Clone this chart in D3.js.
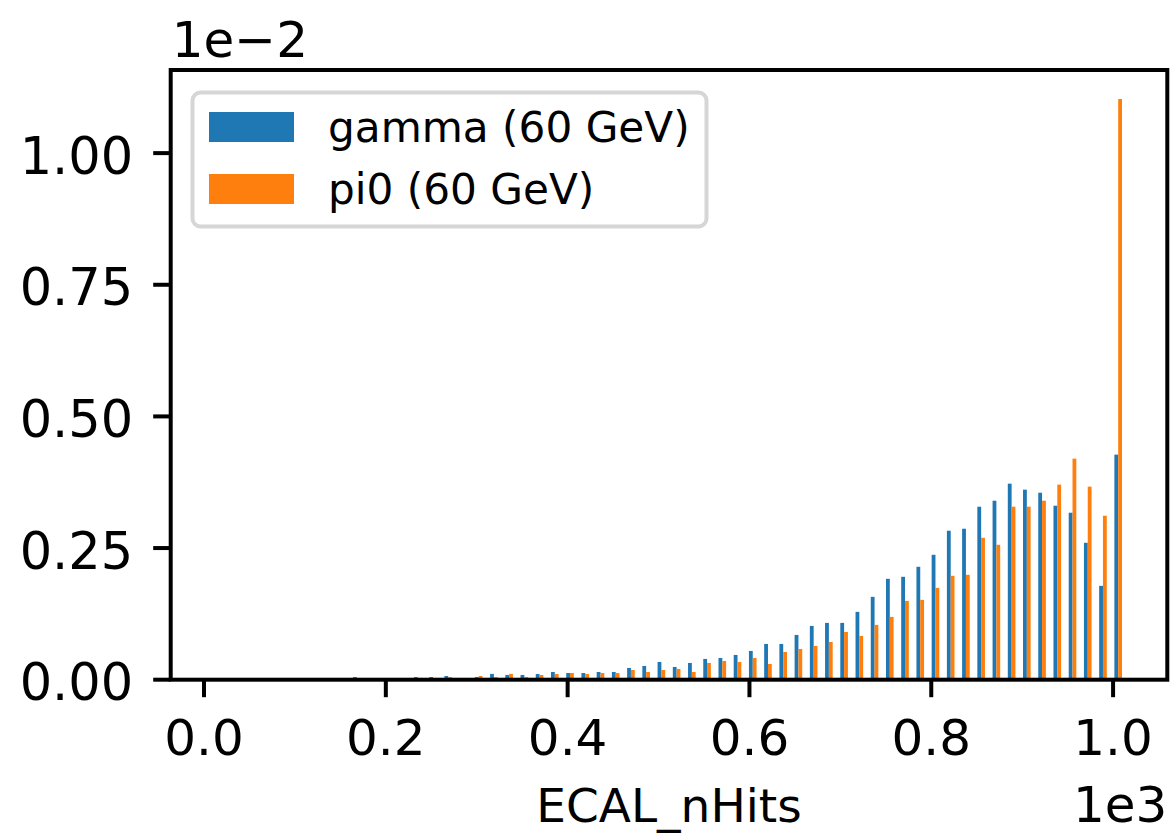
<!DOCTYPE html>
<html>
<head>
<meta charset="utf-8">
<script src="https://cdn.jsdelivr.net/npm/d3@7"></script>
<style>
  body { margin: 0; background: #fff; }
  svg { display: block; font-family: "DejaVu Sans", sans-serif; }
</style>
</head>
<body>
<div id="chart"></div>
<script>
// histogram counts (density, in units of 1e-2), 60 bins over ECAL_nHits
const nHitsMin = 9;
const nHitsMax = 1014;
const nBins = 60;

const seriesNames = ["gamma (60 GeV)", "pi0 (60 GeV)"];
const seriesColors = ["#1f77b4", "#ff7f0e"];

const gammaValues = [
  0, 0, 0, 0, 0, 0, 0, 0, 0, 0.005,
  0, 0, 0, 0.005, 0.005, 0.007, 0, 0.005, 0.011, 0.009,
  0.009, 0.0108, 0.0146, 0.0127, 0.0127, 0.0146, 0.0146, 0.0223, 0.026, 0.0337,
  0.0242, 0.0318, 0.0394, 0.0413, 0.047, 0.0546, 0.0679, 0.0679, 0.085, 0.1021,
  0.1079, 0.1079, 0.1288, 0.1573, 0.1916, 0.1954, 0.2144, 0.2372, 0.2829, 0.2867,
  0.3285, 0.3399, 0.3723, 0.3609, 0.3551, 0.3304, 0.3171, 0.26, 0.1782, 0.4274,
];

const pi0Values = [
  0, 0, 0, 0, 0, 0, 0, 0, 0, 0,
  0, 0, 0, 0, 0, 0.005, 0, 0.007, 0.005, 0.011,
  0.005, 0.0089, 0.0108, 0.0127, 0.0108, 0.0127, 0.0127, 0.0185, 0.0146, 0.0185,
  0.0204, 0.0146, 0.0318, 0.0356, 0.0337, 0.0413, 0.0299, 0.0527, 0.0584, 0.0641,
  0.0717, 0.0907, 0.0831, 0.1041, 0.1193, 0.1497, 0.1516, 0.1744, 0.1973, 0.1992,
  0.2695, 0.2562, 0.3285, 0.3285, 0.3399, 0.3704, 0.4198, 0.3666, 0.3114, 1.1027,
];

const xTicks = [0, 200, 400, 600, 800, 1000];
const xTickLabels = ["0.0", "0.2", "0.4", "0.6", "0.8", "1.0"];
const yTicks = [0, 0.25, 0.5, 0.75, 1.0];
const yTickLabels = ["0.00", "0.25", "0.50", "0.75", "1.00"];

const size = { width: 1172, height: 834 };
const margin = { top: 70, left: 170.7, right: 1172 - 1167.3, bottom: 834 - 679.7 };

const svg = d3
  .select("#chart")
  .append("svg")
  .attr("width", size.width)
  .attr("height", size.height);

const binWidth = (nHitsMax - nHitsMin) / nBins;
const binEdges = d3.range(nBins).map((i) => nHitsMin + i * binWidth);

// matplotlib-style autoscale: 5% margins around the bar extents
const rwidth = 0.5;
const barW = (rwidth * binWidth) / 2;
const lo = nHitsMin + (binWidth - 2 * barW) / 2;
const hi = nHitsMax - (binWidth - 2 * barW) / 2;
const pad = 0.05 * (hi - lo);

const x = d3
  .scaleLinear()
  .domain([lo - pad, hi + pad])
  .range([margin.left, size.width - margin.right]);

const yMax = d3.max([...gammaValues, ...pi0Values]) * 1.05;
const y = d3
  .scaleLinear()
  .domain([0, yMax])
  .range([size.height - margin.bottom, margin.top]);

// bars
[gammaValues, pi0Values].forEach((vals, s) => {
  svg
    .append("g")
    .selectAll("rect")
    .data(vals)
    .join("rect")
    .attr("x", (d, i) => x(binEdges[i] + (binWidth - 2 * barW) / 2 + s * barW))
    .attr("width", (d, i) => x(binEdges[i] + barW) - x(binEdges[i]))
    .attr("y", (d) => y(d))
    .attr("height", (d) => y(0) - y(d))
    .attr("fill", seriesColors[s]);
});

// spines
svg
  .append("rect")
  .attr("x", margin.left)
  .attr("y", margin.top)
  .attr("width", size.width - margin.right - margin.left)
  .attr("height", size.height - margin.bottom - margin.top)
  .attr("fill", "none")
  .attr("stroke", "black")
  .attr("stroke-width", 4)
  .attr("stroke-linejoin", "miter")
  .attr("stroke-linecap", "square");

const tickLen = 17.5;
const fontTick = 50;

// x ticks
const xAxis = svg.append("g");
xTicks.forEach((v, i) => {
  xAxis
    .append("line")
    .attr("x1", x(v))
    .attr("x2", x(v))
    .attr("y1", y(0))
    .attr("y2", y(0) + tickLen)
    .attr("stroke", "black")
    .attr("stroke-width", 4);
  xAxis
    .append("text")
    .text(xTickLabels[i])
    .attr("x", x(v))
    .attr("y", 754.5)
    .attr("text-anchor", "middle")
    .attr("font-size", fontTick);
});

// y ticks
const yAxis = svg.append("g");
yTicks.forEach((v, i) => {
  yAxis
    .append("line")
    .attr("x1", margin.left - tickLen)
    .attr("x2", margin.left)
    .attr("y1", y(v))
    .attr("y2", y(v))
    .attr("stroke", "black")
    .attr("stroke-width", 4);
  yAxis
    .append("text")
    .text(yTickLabels[i])
    .attr("x", margin.left - tickLen - 20)
    .attr("y", y(v) + 20.5)
    .attr("text-anchor", "end")
    .attr("font-size", 51);
});

// offset texts and label
svg
  .append("text")
  .text("1e\u22122")
  .attr("x", margin.left + 1)
  .attr("y", 57)
  .attr("font-size", fontTick);

svg
  .append("text")
  .text("1e3")
  .attr("x", size.width - margin.right)
  .attr("y", 822)
  .attr("text-anchor", "end")
  .attr("font-size", fontTick);

svg
  .append("text")
  .text("ECAL_nHits")
  .attr("x", (margin.left + size.width - margin.right) / 2)
  .attr("y", 822)
  .attr("text-anchor", "middle")
  .attr("font-size", 47);

// legend
const fontLeg = 42.2;
const legend = svg.append("g");
legend
  .append("rect")
  .attr("x", 192.5)
  .attr("y", 92.5)
  .attr("width", 514)
  .attr("height", 134)
  .attr("rx", 8)
  .attr("fill", "white")
  .attr("fill-opacity", 0.8)
  .attr("stroke", "#d6d6d6")
  .attr("stroke-width", 4);

seriesNames.forEach((name, i) => {
  const rowY = 112 + i * 62;
  legend
    .append("rect")
    .attr("x", 209)
    .attr("y", rowY)
    .attr("width", 85)
    .attr("height", 30)
    .attr("fill", seriesColors[i]);
  legend
    .append("text")
    .text(name)
    .attr("x", 328)
    .attr("y", rowY + 30)
    .attr("font-size", fontLeg);
});
</script>
</body>
</html>
